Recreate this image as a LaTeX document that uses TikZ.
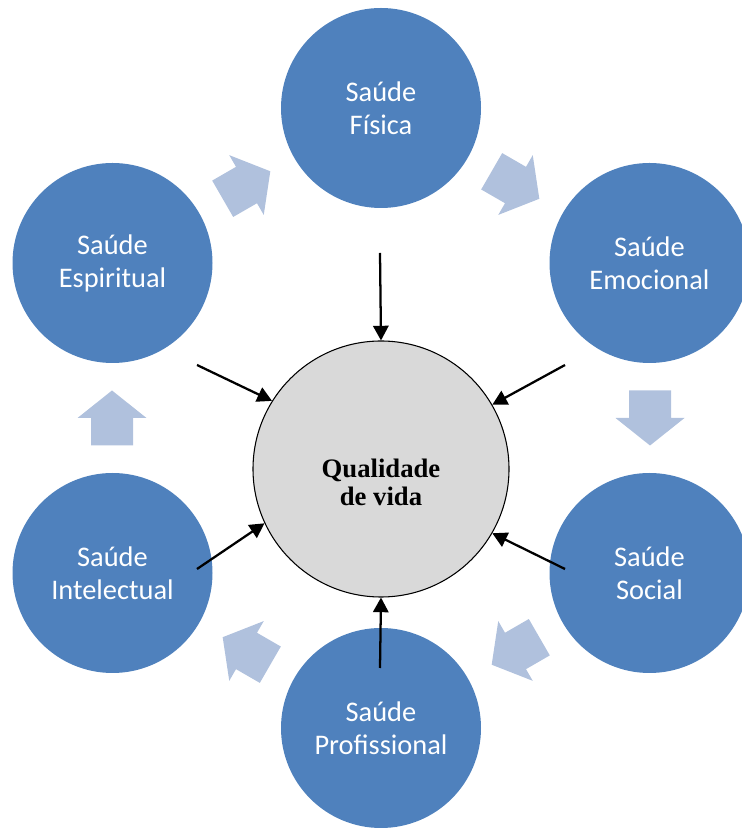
\documentclass[tikz,border=0pt]{standalone}
\usepackage{fontspec}
\setmainfont{Carlito}
\newfontfamily\hubfont{Liberation Serif}
\usetikzlibrary{arrows.meta}

\definecolor{ringblue}{HTML}{4F81BD}
\definecolor{flowblue}{HTML}{B0C1DD}
\definecolor{hubgrey}{HTML}{D9D9D9}

\begin{document}
\begin{tikzpicture}[x=0.75pt, y=0.75pt,
    area/.style={circle, fill=ringblue, minimum size=150pt, inner sep=0pt, align=center,
        text=white, font=\fontsize{21.3}{24.75}\selectfont},
    hub/.style={circle, draw=black, line width=0.8pt, fill=hubgrey, minimum size=192pt, inner sep=0pt},
    hubtext/.style={align=center, font=\hubfont\bfseries\fontsize{20}{21}\selectfont},
    flow/.style={fill=flowblue},
    feed/.style={line width=1.7pt, -{Triangle[length=11pt, width=11.5pt]}}]
    \useasboundingbox (0,0) rectangle (742,828);
    \coordinate (ring) at (381,410);

    % the six areas around the ring
    \node (fisica) [area] at (381,720) {Saúde\\Física};
    \node (emocional) [area] at (649.5,565) {Saúde\\Emocional};
    \node (social) [area] at (649.5,255) {Saúde\\Social};
    \node (profissional) [area] at (381,100) {Saúde\\Profissional};
    \node (intelectual) [area] at (112.5,255) {Saúde\\Intelectual};
    \node (espiritual) [area] at (112.5,565) {Saúde\\Espiritual};

    % block arrows going round clockwise
    \foreach \a in {120,60,0,-60,-120,180}
        \fill[flow, shift={(ring)}, rotate=\a] (248,27.5) -- (248,0) -- (234.5,0) -- (269,-27.5)
            -- (303.5,0) -- (290,0) -- (290,27.5) -- cycle;

    % quality of life in the middle
    \node (qv) [hub] at (381,359) {};
    \node (qvtext) [hubtext] at ([yshift=-9.75pt]qv.center) {Qualidade\\de vida};

    \coordinate (fromfisica) at (380,575);
    \coordinate (fromemocional) at (565,463);
    \coordinate (fromsocial) at (565,259);
    \coordinate (fromprofissional) at (380,160);
    \coordinate (fromintelectual) at (197,259);
    \coordinate (fromespiritual) at (197,463);

    \draw[feed] (fromfisica) -- (qv.90);
    \draw[feed] (fromemocional) -- (qv.30);
    \draw[feed] (fromsocial) -- (qv.-30);
    \draw[feed] (fromprofissional) -- (qv.-90);
    \draw[feed] (fromintelectual) -- (qv.205);
    \draw[feed] (fromespiritual) -- (qv.148);
\end{tikzpicture}
\end{document}
